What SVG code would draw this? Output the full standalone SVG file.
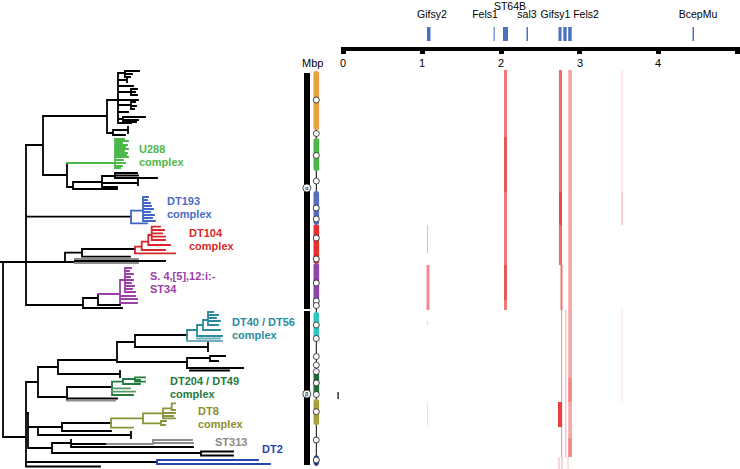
<svg xmlns="http://www.w3.org/2000/svg" width="740" height="469" viewBox="0 0 740 469">
<style>
.tr{fill:none;stroke-width:1.8;stroke-linecap:square}
.k{stroke:#000}.gy{stroke:#8c8c8c}
.cg{stroke:#4cb848}.cb{stroke:#3f66c2}.cr{stroke:#d7262c}.cp{stroke:#9c3fa7}
.ct{stroke:#2c8a9a}.ctl{stroke:#6fb0bc}.cd{stroke:#237a3c}.cdl{stroke:#5a9a6a}.co{stroke:#8a943a}.cdb{stroke:#2a45b0}
.lab{font-family:"Liberation Sans",Arial,sans-serif;font-size:11px;font-weight:bold}
.txt{font-family:"Liberation Sans",Arial,sans-serif;font-size:11px;fill:#000}
.pt{font-family:"Liberation Sans",Arial,sans-serif;font-size:10.5px;fill:#000}
.pb{fill:#4a72c0}.pbl{fill:#7f9bd2}
.dot{fill:#fff;stroke:#000;stroke-width:0.7}
</style>

<!-- top axis -->
<g id="axis">
<rect x="341" y="47" width="398" height="4" fill="#000"/>
<rect x="341" y="47" width="5" height="7" fill="#000"/>
<rect x="420" y="47" width="5" height="7" fill="#000"/>
<rect x="499" y="47" width="5" height="7" fill="#000"/>
<rect x="577" y="47" width="5" height="7" fill="#000"/>
<rect x="656" y="47" width="5" height="7" fill="#000"/>
<rect x="735" y="47" width="5" height="7" fill="#000"/>
<text class="txt" x="343" y="67" text-anchor="middle">0</text>
<text class="txt" x="422" y="67" text-anchor="middle">1</text>
<text class="txt" x="501" y="67" text-anchor="middle">2</text>
<text class="txt" x="580" y="67" text-anchor="middle">3</text>
<text class="txt" x="658" y="67" text-anchor="middle">4</text>
</g>

<g id="prophages">
<rect class="pb" x="427" y="27" width="3.5" height="14"/>
<rect class="pbl" x="493.5" y="27" width="1.5" height="14"/>
<rect class="pb" x="503" y="27" width="5" height="14"/>
<rect class="pb" x="526.5" y="27" width="1.5" height="14"/>
<rect class="pb" x="558.5" y="27" width="3" height="14"/>
<rect class="pb" x="563.3" y="27" width="3.3" height="14"/>
<rect class="pb" x="568.2" y="27" width="3.5" height="14"/>
<rect class="pb" x="692.5" y="27" width="1.5" height="14"/>
<text class="pt" x="432" y="18" text-anchor="middle">Gifsy2</text>
<text class="pt" x="485" y="18" text-anchor="middle">Fels1</text>
<text class="pt" x="510" y="10" text-anchor="middle">ST64B</text>
<text class="pt" x="527" y="18" text-anchor="middle">sal3</text>
<text class="pt" x="555.5" y="18" text-anchor="middle">Gifsy1</text>
<text class="pt" x="586" y="18" text-anchor="middle">Fels2</text>
<text class="pt" x="698" y="18" text-anchor="middle">BcepMu</text>
</g>

<!-- red presence columns -->
<g id="hits">
<rect x="427" y="225" width="1" height="28" fill="#f4b4b4"/>
<rect x="426.5" y="265" width="3" height="45" fill="#f28c8c"/>
<rect x="427" y="321" width="1" height="4" fill="#f8caca"/>
<rect x="427" y="402" width="1" height="25" fill="#fbdada"/>
<rect x="504" y="70" width="3" height="67" fill="#f07a7a"/>
<rect x="504" y="137" width="3" height="55" fill="#ea5656"/>
<rect x="504" y="192" width="3" height="73" fill="#f07a7a"/>
<rect x="504" y="265" width="3" height="35" fill="#ea5656"/>
<rect x="504" y="300" width="3" height="10" fill="#f07a7a"/>
<rect x="559" y="70" width="3" height="122" fill="#ef6b6b"/>
<rect x="559" y="192" width="3" height="33" fill="#e84a4a"/>
<rect x="559" y="225" width="3" height="40" fill="#ef6b6b"/>
<rect x="560.5" y="265" width="2" height="45" fill="#ef7272"/>
<rect x="561" y="310" width="1.2" height="147" fill="#f29a9a"/>
<rect x="558" y="402" width="4" height="25" fill="#e84040"/>
<rect x="558.5" y="457" width="1" height="12" fill="#f4b0b0"/>
<rect x="561.5" y="457" width="1" height="12" fill="#f4b0b0"/>
<rect x="565.3" y="310" width="1" height="147" fill="#f4a8a8"/>
<rect x="568.3" y="70" width="3.5" height="387" fill="#f5a3a3"/>
<rect x="568.3" y="378" width="3.5" height="24" fill="#f08888"/>
<rect x="568.3" y="438" width="3.5" height="19" fill="#f08888"/>
<rect x="567.5" y="457" width="1" height="12" fill="#f8c4c4"/>
<rect x="621.5" y="70" width="1" height="122" fill="#fbd4d4"/>
<rect x="621.5" y="192" width="1" height="33" fill="#f4a0a0"/>
<rect x="621.5" y="308" width="1" height="94" fill="#fde2e2"/>
</g>

<!-- Mbp bar -->
<g id="mbp-bar">
<text class="txt" x="302" y="67">Mbp</text>
<rect x="304" y="73" width="6" height="236" fill="#000"/>
<rect x="304" y="311" width="6" height="154" fill="#000"/>
<line x1="316.3" y1="128" x2="316.3" y2="462" stroke="#000" stroke-width="1"/>
<rect x="313.5" y="71" width="5.6" height="59" rx="2.5" fill="#e8a040"/>
<rect x="313.5" y="138" width="5.6" height="33" rx="2.5" fill="#4cb848"/>
<rect x="313.5" y="191" width="5.6" height="34" rx="2.5" fill="#5a6ec0"/>
<rect x="313.5" y="225" width="5.6" height="38" fill="#e8302e"/>
<rect x="313.5" y="263" width="5.6" height="45" rx="2.5" fill="#8e44a8"/>
<rect x="313.5" y="312" width="5.6" height="28" rx="2.5" fill="#35c4c8"/>
<rect x="313.5" y="373" width="5.6" height="21" rx="1.5" fill="#1e6e3a"/>
<rect x="313.5" y="399" width="5.6" height="26" rx="2.5" fill="#a8a040"/>
<ellipse cx="316.3" cy="460.5" rx="3" ry="5.5" fill="#2a3fa0"/>
<circle class="dot" cx="316.3" cy="100" r="3"/>
<circle class="dot" cx="316.3" cy="133.5" r="3"/>
<circle class="dot" cx="316.3" cy="155.5" r="3"/>
<circle class="dot" cx="316.3" cy="181" r="3"/>
<circle class="dot" cx="316.3" cy="208" r="3"/>
<circle class="dot" cx="316.3" cy="219" r="3"/>
<circle class="dot" cx="316.3" cy="238" r="3"/>
<circle class="dot" cx="316.3" cy="259" r="3"/>
<circle class="dot" cx="316.3" cy="283" r="3"/>
<circle class="dot" cx="316.3" cy="301" r="3"/>
<circle class="dot" cx="316.3" cy="305.5" r="3"/>
<circle class="dot" cx="316.3" cy="325" r="3"/>
<circle class="dot" cx="316.3" cy="338.5" r="3"/>
<circle class="dot" cx="316.3" cy="356.5" r="3"/>
<circle class="dot" cx="316.3" cy="365" r="3"/>
<circle class="dot" cx="316.3" cy="371.5" r="3"/>
<circle class="dot" cx="316.3" cy="383" r="3"/>
<circle class="dot" cx="316.3" cy="394.5" r="3"/>
<circle class="dot" cx="316.3" cy="411.7" r="3"/>
<circle class="dot" cx="316.3" cy="440" r="3"/>
<circle class="dot" cx="316.3" cy="460" r="3"/>
<circle class="dot" cx="306.8" cy="188" r="4"/>
<text x="306.8" y="190" font-family="DejaVu Sans,sans-serif" font-size="5.5" text-anchor="middle">α</text>
<circle class="dot" cx="306.8" cy="394" r="4"/>
<text x="306.8" y="396" font-family="DejaVu Sans,sans-serif" font-size="5.5" text-anchor="middle">β</text>
<rect x="337.5" y="392" width="1.2" height="7" fill="#000"/>
</g>

<!-- tree -->
<g id="tree-black">
<path class="tr k" d="M0,262H75M3,262V437M3,437H26
M26,145V305M26,145H43M43,116V175M43,116H107M107,100V133
M107,100H118M118,73V123
M118,73H125M125,71V77M125,71H139M125,74H132M125,77H130
M118,80H127M127,78V82
M118,86H133
M118,92H131M131,89V95M131,89H137M131,92H135M131,95H137
M118,100H138
M118,105H131M131,102V109M131,102H135M131,106H136M131,109H134
M118,112H128
M118,119H123M123,117V122M123,117H145M123,120H138M123,122H136
M118,123H131
M107,133H113M113,130V135M113,130H128M128,127V133M113,135H125
M43,175H67M67,163V187
M67,187H73M73,182V189
M73,182H102M102,176V187
M102,176H115M115,173V178M115,173H137M115,175.5H138M115,178H157
M102,183H138M138,180V185
M102,187H117
M73,189H117
M26,216.7H131
M65,252.7V262M65,252.7H82M82,249V256.7M82,249H135M82,256.7H130
M75,259V263M75,261H165
M26,305H83M83,298V308M83,298H98M98,294V305M98,305H120M83,308H122
M26,382V466M26,382H38M38,367V397
M38,367H58M58,360V374
M58,360H117M117,342V362
M117,342H135M135,335V347
M135,335H187
M135,347H208M208,343V351
M117,362H187M187,358V368M187,358H210M210,356V361M210,356H225M210,361H218M187,368H243M190,370.5H229
M58,374H120M120,371V377
M38,397H67M67,387V400M67,387H112M67,398.5H117
M26,413H28M28,413V448
M28,427H38M38,427V435M38,427H62M62,423V431M62,423H111M62,431H111
M38,435H131M131,432V438
M28,448H52M52,443V453
M52,443H71M71,440V447
M71,444H107
M71,447H193
M52,453H201M201,451.5V455.5M201,451.5H233M201,455.5H233
M26,462H157
M26,466.5H100"/>
<path class="tr gy" d="M75,259H138M75,263H138M67,400.5H115M107,444H153M153,440V443M153,440H192M153,443H193"/>
</g>

<g id="clade-U288">
<path class="tr cg" d="M67,163H115M115,139V168
M115,139H124M115,141H128M115,143H122M115,145H127M115,147H125M115,149H128M115,151H124M115,153H127M115,155H126M115,157H128M115,160H123M115,163H125M115,166H122M115,168H120"/>
<text class="lab" x="139" y="153" fill="#4cb848">U288</text>
<text class="lab" x="139" y="166" fill="#4cb848">complex</text>
</g>

<g id="clade-DT193">
<path class="tr cb" d="M131,210.7V223.3M131,210.7H143M131,223.3H147M143,197V221
M143,197H148M143,200H147M143,203H150M143,206H151M143,209H153M143,212H150M143,215H154M143,218H152M143,221H155"/>
<text class="lab" x="167" y="205" fill="#4a6cc4">DT193</text>
<text class="lab" x="167" y="218" fill="#4a6cc4">complex</text>
</g>

<g id="clade-DT104">
<path class="tr cr" d="M135,246.7V253.3M135,253.3H175M135,246.7H141.7M141.7,241.7V250M141.7,250H165
M141.7,241.7H148.3M148.3,235V245M148.3,245H170M148.3,235H151.7M151.7,226.7V240
M151.7,226.7H160M151.7,230H164M151.7,233.3H162M151.7,236.7H165M151.7,240H165"/>
<text class="lab" x="189" y="237" fill="#d42a2a">DT104</text>
<text class="lab" x="189" y="250" fill="#d42a2a">complex</text>
</g>

<g id="clade-ST34">
<path class="tr cp" d="M98,294H120M120,280V303M120,280H125M125,268V292
M125,268H131M125,271H129M125,274H133M125,277H130M125,280H133M125,283H131M125,286H134M125,289H132M125,292H135
M120,296H135M120,299H137M120,303H137"/>
<text class="lab" x="150" y="280" fill="#9a3fa4">S. 4,[5],12:i:-</text>
<text class="lab" x="150" y="293" fill="#9a3fa4">ST34</text>
</g>

<g id="clade-DT40">
<path class="tr ct" d="M187,330V341M187,330H197M197,325V336M197,325H203M203,320V330M203,320H208M208,312V325
M208,312H213M208,315H218M208,318H216M208,321H220M208,325H218M203,330H220M197,336H222"/>
<path class="tr ctl" d="M197,338.5H220M187,341H222"/>
<text class="lab" x="232" y="326" fill="#2a8c9c">DT40 / DT56</text>
<text class="lab" x="232" y="339" fill="#2a8c9c">complex</text>
</g>

<g id="clade-DT204">
<path class="tr cd" d="M112,381.7V395M112,381.7H123M123,379V384M123,379H135M135,377.3V381.7M135,377.3H145M135,380H140M135,381.7H145M123,384H140M112,395H133"/>
<path class="tr cdl" d="M112,388.3H130M112,391.7H135"/>
<text class="lab" x="170" y="385" fill="#237a3c">DT204 / DT49</text>
<text class="lab" x="170" y="398" fill="#237a3c">complex</text>
</g>

<g id="clade-DT8">
<path class="tr co" d="M111,418.3V427.7M111,418.3H143M111,427.7H133M143,413.3V423.3M143,413.3H163M163,408.3V418.3M163,408.3H171.7M171.7,403.3V410M171.7,403.3H175M171.7,410H175M163,413H175M163,416H173M163,418.3H175M143,423.3H161M161,421V425M161,421H166M161,425H165"/>
<text class="lab" x="198" y="415" fill="#8e8e30">DT8</text>
<text class="lab" x="198" y="428" fill="#8e8e30">complex</text>
</g>

<g id="clade-ST313">
<text class="lab" x="215" y="446" fill="#8a8a8a">ST313</text>
</g>

<g id="clade-DT2">
<path class="tr cdb" d="M157,460V464M157,460H258M157,464H270"/>
<text class="lab" x="262" y="453" fill="#2a40a8">DT2</text>
</g>
</svg>
